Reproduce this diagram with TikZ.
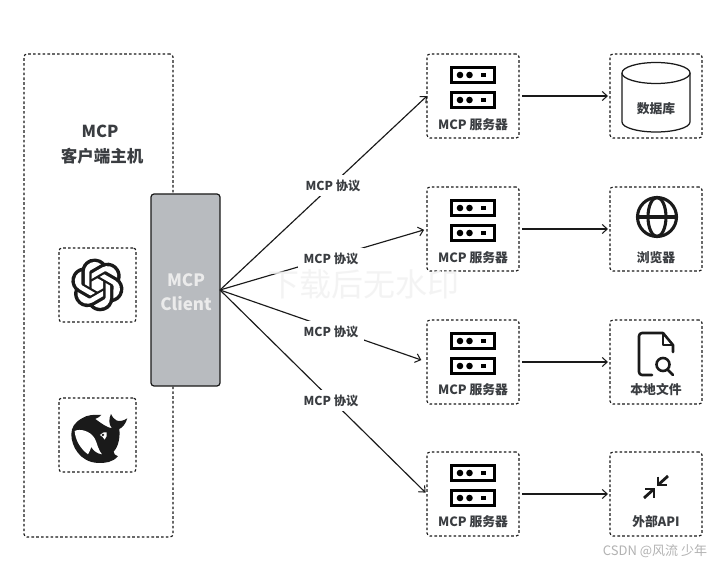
\documentclass[tikz,border=0pt]{standalone}
\usepackage{fontspec}
\setmainfont{Noto Sans CJK SC}
\newfontfamily\plainfont{Noto Sans CJK SC}
\usetikzlibrary{arrows.meta,svg.path}
\definecolor{ink}{HTML}{1A1A1A}
\definecolor{txt}{HTML}{3A3D41}
\definecolor{clientgray}{HTML}{B8BBBF}
\tikzset{
  dbox/.style={draw=ink,line width=1.15pt,dash pattern=on 2.6pt off 2.2pt,rounded corners=3pt,outer sep=0pt,inner sep=0pt},
  smallbox/.style={dbox,minimum width=77pt,minimum height=74pt},
  rowbox/.style={dbox,minimum width=92pt,minimum height=84pt},
  link/.style={draw=ink,line width=1.15pt},
  arrowlink/.style={link,-{Straight Barb[length=5pt,width=9pt,line width=1.05pt]}},
  proto/.style={font=\bfseries\fontsize{12.3}{14}\selectfont,text=txt,fill=white,inner sep=0pt,minimum width=66pt,minimum height=21pt},
  captext/.style={font=\bfseries\fontsize{12.8}{15}\selectfont,text=txt,inner sep=0pt},
  icon/.style={draw=ink,line width=2.6pt},
}
\newcommand{\servericon}[1]{%
  \begin{scope}[shift={(#1)}]
    \foreach \yy in {12,37}{
      \draw[draw=black,line width=3.2pt,fill=white] (-21.5,\yy+1.5) rectangle (21.5,\yy+16.5);
      \fill[black] (-13,\yy+9) circle[radius=3.3pt] (-3.5,\yy+9) circle[radius=3.3pt];
      \fill[black] (8,\yy+7.3) rectangle (13,\yy+10.7);
    }
  \end{scope}}
\begin{document}
\begin{tikzpicture}[x=1pt,y=-1pt]
\useasboundingbox (0,0) rectangle (718,564);
\fill[white] (0,0) rectangle (718,564);

% host
\node[dbox,minimum width=149pt,minimum height=483pt] (host) at (98.5,295.5) {};
\node[font=\bfseries\fontsize{16.5}{20}\selectfont,text=txt,inner sep=0pt] (t1) at (100,131.5) {MCP};
\node[font=\bfseries\fontsize{16.5}{20}\selectfont,text=txt,inner sep=0pt] (t2) at (102,156.5) {客户端主机};
\node[smallbox] (gpt) at (97.5,285) {};
\node[smallbox] (ds) at (97.5,435) {};

% OpenAI logo
\begin{scope}[shift={(71,258.5)},xscale=0.22,yscale=-0.22]
\fill[ink] svg {M 222.8 98.2 A 59.8 59.8 0 0 0 217.7 49.1 A 60.5 60.5 0 0 0 152.6 20.1 A 60.7 60.7 0 0 0 49.8 41.8 A 59.8 59.8 0 0 0 9.8 70.8 A 60.5 60.5 0 0 0 17.3 141.8 A 59.8 59.8 0 0 0 22.4 190.9 A 60.5 60.5 0 0 0 87.5 219.9 A 59.8 59.8 0 0 0 132.6 240 A 60.6 60.6 0 0 0 190.3 197.9 A 59.9 59.9 0 0 0 230.3 168.9 A 60.6 60.6 0 0 0 222.8 98.2 Z};
\foreach \aa in {0,60,120,180,240,300}{
  \begin{scope}[shift={(120pt,120pt)},rotate=\aa,shift={(-120pt,-120pt)}]
    \fill[white] svg {M 132.6 224.3 A 44.8 44.8 0 0 1 103.8 213.9 L 153 185.5 L 156.9 178.7 L 156.9 111.3 L 177.2 123 L 177.5 123.5 L 177.5 179.3 A 45 45 0 0 1 132.6 224.3 Z};
  \end{scope}
}
\fill[white] svg {M 94 105 L 120 90 L 146.1 105 L 146.1 135 L 120.1 150 L 94 135 Z};
\end{scope}

% whale
\begin{scope}[shift={(62,405)},x=0.333pt,y=-0.333pt]
\fill[ink] (118,30) .. controls (95,28) and (75,30) .. (60,40)
  .. controls (38,52) and (28,68) .. (28,88)
  .. controls (28,125) and (55,172) .. (108,174)
  .. controls (130,175) and (152,172) .. (168,154)
  .. controls (160,152) and (155,146) .. (155,140)
  .. controls (170,125) and (175,95) .. (172,72)
  .. controls (182,68) and (192,55) .. (196,40)
  .. controls (185,48) and (172,50) .. (163,46)
  .. controls (156,42) and (150,35) .. (147,27)
  .. controls (140,42) and (140,58) .. (150,70)
  .. controls (135,68) and (118,55) .. (100,42)
  .. controls (108,38) and (114,35) .. (118,30) -- cycle;
\fill[white] (38,78) .. controls (55,70) and (85,78) .. (98,100)
  .. controls (106,114) and (106,130) .. (120,148)
  .. controls (104,146) and (94,136) .. (88,126)
  .. controls (85,134) and (82,142) .. (78,148)
  .. controls (56,132) and (40,106) .. (38,78) -- cycle;
\fill[white] (114,90) .. controls (120,83) and (128,80) .. (134,82)
  .. controls (136,90) and (134,98) .. (128,104)
  .. controls (124,98) and (120,93) .. (114,90) -- cycle;
\fill[ink] (123,90) circle[radius=1.3pt];
\end{scope}

% client
\node[draw=ink,line width=1.2pt,fill=clientgray,rounded corners=3pt,minimum width=69pt,minimum height=192pt,outer sep=0pt] (client) at (185.5,290) {};
\node[font=\bfseries\fontsize{17}{20}\selectfont,text=white!92!black,inner sep=0pt] (c1) at (186,280) {MCP};
\node[font=\bfseries\fontsize{17}{20}\selectfont,text=white!92!black,inner sep=0pt] (c2) at (186,304) {Client};

% server and resource boxes
\foreach \n/\yy in {1/96,2/229,3/362,4/494}{
  \node[rowbox] (s\n) at (473,\yy) {};
  \node[rowbox] (r\n) at (656,\yy) {};
  \draw[arrowlink,shorten <=3pt,shorten >=2pt] (s\n) -- (r\n);
}
\servericon{473,54}
\servericon{473,187}
\servericon{473,320}
\servericon{473,452}
\node[captext] (sl1) at (473,125) {MCP 服务器};
\node[captext] (sl2) at (473,258) {MCP 服务器};
\node[captext] (sl3) at (473,390) {MCP 服务器};
\node[captext] (sl4) at (473,522) {MCP 服务器};

% connectors
\draw[arrowlink] (client.east) -- (s1.west);
\draw[arrowlink,shorten >=3pt] (client.east) -- (s2.west);
\draw[arrowlink,shorten >=6pt] (client.east) -- (s3.west);
\draw[arrowlink,shorten >=2pt] (client.east) -- (s4.west);
\node[proto] (p1) at (333,185.5) {MCP 协议};
\node[proto] (p2) at (331,258.5) {MCP 协议};
\node[proto] (p3) at (331,331.5) {MCP 协议};
\node[proto] (p4) at (331,400.5) {MCP 协议};

% database
\draw[ink,line width=1.25pt,fill=white] (622,73) -- (622,122) arc[start angle=180,end angle=360,x radius=34pt,y radius=10pt] -- (690,73);
\draw[ink,line width=1.25pt,fill=white] (656,73) ellipse[x radius=34pt,y radius=10.5pt];
\node[captext] (rl1) at (656,109) {数据库};

% globe
\draw[icon,line width=3.1pt] (657,217) circle[radius=19.5pt];
\draw[icon,line width=3.1pt] (657,217) ellipse[x radius=9pt,y radius=19.5pt];
\draw[icon,line width=3.1pt] (637.5,217) -- (676.5,217);
\node[captext] (rl2) at (656,258) {浏览器};

% file
\draw[icon,line cap=round,line join=round,rounded corners=3pt] (652,375) -- (639,375) -- (639,333) -- (663,333);
\draw[icon,line cap=round,line join=round] (663,333) -- (673,345) -- (673,352);
\draw[icon,line width=2pt,line join=round] (663,333) -- (663,345) -- (673,345);
\draw[icon] (663,364.5) circle[radius=6.5pt];
\draw[icon,line cap=round] (668,370) -- (673,375);
\node[captext] (rl3) at (656,390) {本地文件};

% api
\draw[icon,line width=2.8pt] (668,476) -- (658,485);
\draw[icon,line width=2.8pt] (658,476.5) -- (658,485) -- (667,485);
\draw[icon,line width=2.8pt] (644,498) -- (654,489);
\draw[icon,line width=2.8pt] (645,489) -- (654,489) -- (654,497.5);
\node[captext] (rl4) at (656,522) {外部API};

% watermarks
\node[font=\plainfont\fontsize{32}{36}\selectfont,text=white!95!black,opacity=.85,inner sep=0pt] (wm) at (363,284) {下载后无水印};
\node[font=\plainfont\fontsize{13}{15}\selectfont,text=black!30,inner sep=0pt] (wm2) at (655,551) {CSDN @风流 少年};
\end{tikzpicture}
\end{document}
